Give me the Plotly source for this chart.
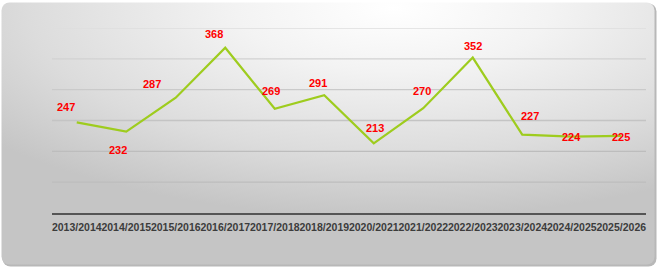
import base64
import plotly.graph_objects as go

# ---- data ----
seasons = ["2013/2014", "2014/2015", "2015/2016", "2016/2017", "2017/2018", "2018/2019",
           "2020/2021", "2021/2022", "2022/2023", "2023/2024", "2024/2025", "2025/2026"]
values = [247, 232, 287, 368, 269, 291, 213, 270, 352, 227, 224, 225]
grid_values = [150, 200, 250, 300, 350, 400]

# ---- label offsets (style: pixels, relative to each point) ----
label_dx = [-11, -8, -24, -11, -4, -6, 1, -1, 0, 8, 0, 0]
label_dy = [15, -18, 14, 14, 18, 12, 15, 17, 12, 19, 0, -1]
grid_colors = ["#bdbdbd", "#bdbdbd", "#c4c4c4", "#cacaca", "#d2d2d2", "#dedede"]

W, H = 658, 268
ML, MR, MT, MB = 52, 12, 28, 55
PW, PH = W - ML - MR, H - MT - MB

svg = f'''<svg xmlns="http://www.w3.org/2000/svg" width="{W}" height="{H}" viewBox="0 0 {W} {H}">
<defs>
<radialGradient id="g" gradientUnits="objectBoundingBox" cx="0.6" cy="0.02" r="0.8">
<stop offset="0" stop-color="#ffffff"/>
<stop offset="0.3" stop-color="#f3f3f3"/>
<stop offset="0.7" stop-color="#dcdcdc"/>
<stop offset="1" stop-color="#c5c5c5"/>
</radialGradient>
</defs>
<rect x="0" y="0" width="{W}" height="{H}" fill="#ffffff"/>
<rect x="2.5" y="3.5" width="654" height="263" rx="8" ry="8" fill="#b8b8b8"/>
<rect x="1.5" y="2.5" width="653" height="262" rx="8" ry="8" fill="url(#g)"/>
</svg>'''
src = "data:image/svg+xml;base64," + base64.b64encode(svg.encode()).decode()

fig = go.Figure()
fig.add_trace(go.Scatter(
    x=seasons, y=values, mode="lines",
    line=dict(color="#9ecc1e", width=2.2),
    hoverinfo="skip", showlegend=False,
))

for gv, gc in zip(grid_values, grid_colors):
    fig.add_shape(type="line", xref="paper", yref="y", x0=0, x1=1, y0=gv, y1=gv,
                  line=dict(color=gc, width=1.3), layer="below")

for s, v, dx, dy in zip(seasons, values, label_dx, label_dy):
    fig.add_annotation(
        x=s, y=v, text=f"<b>{v}</b>", showarrow=False,
        xshift=dx, yshift=dy, xanchor="center", yanchor="middle",
        font=dict(family="Liberation Sans", size=11, color="#ff0000"),
    )

fig.add_layout_image(dict(
    source=src, xref="paper", yref="paper",
    x=-ML / PW, y=1 + MT / PH, sizex=W / PW, sizey=H / PH,
    xanchor="left", yanchor="top", sizing="stretch", layer="below",
))

fig.update_layout(
    width=W, height=H,
    margin=dict(l=ML, r=MR, t=MT, b=MB),
    paper_bgcolor="rgba(0,0,0,0)", plot_bgcolor="rgba(0,0,0,0)",
    xaxis=dict(
        type="category", showgrid=False, zeroline=False,
        showline=True, linecolor="#555555", linewidth=2,
        ticks="", tickangle=0, ticklabelstandoff=3,
        tickfont=dict(family="Liberation Sans", size=10.5, color="#3c3c3c", weight="bold"),
        range=[-0.5, len(seasons) - 0.5],
    ),
    yaxis=dict(
        range=[100, 400],
        showgrid=False,
        showticklabels=False, zeroline=False, showline=False, ticks="",
    ),
)

fig.write_html("out.html")
